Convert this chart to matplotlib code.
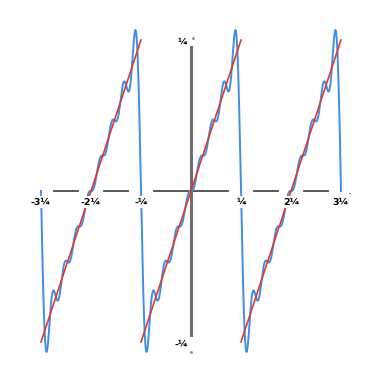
import numpy as np
import matplotlib
matplotlib.use('Agg')
import matplotlib.pyplot as plt

PI = np.pi

# sawtooth pieces (red): start x, end x, start y, end y
saw_x0 = [-3 * PI, -PI, PI]
saw_x1 = [-PI, PI, 3 * PI]
saw_y0 = [-PI, -PI, -PI]
saw_y1 = [PI, PI, PI]

# fourier coefficients of the sine terms (blue), 8 harmonics
harmonics = [1, 2, 3, 4, 5, 6, 7, 8]
coeffs = [2.0, -1.0, 0.6667, -0.5, 0.4, -0.3333, 0.2857, -0.25]

xticks = [-3 * PI, -2 * PI, -PI, PI, 2 * PI, 3 * PI]
xticklabels = ['-3¼', '-2¼', '-¼', '¼', '2¼', '3¼']
yticks = [PI, -PI]
yticklabels = ['¼', '-¼']

fig = plt.figure(figsize=(3.75, 3.72), dpi=100)
ax = fig.add_axes([0, 0, 1, 1])
ax.set_xlim(-12.0, 11.56)
ax.set_ylim(-3.766, 3.974)
ax.axis('off')

# axes lines
ax.plot([-9.5, 10.0], [0, 0], color='#4a4a4a', lw=1.3, zorder=1)
ax.plot([10.0], [0], marker=(3, 0, -90), color='#4a4a4a', ms=3, zorder=1)
ax.plot([0, 0], [-3.0, 3.0], color='#6e6e6e', lw=2.2, zorder=1)
ax.plot([0.12, 0.0], [PI + 0.05, -PI - 0.2], ls='none', marker='.',
        ms=2, color='#888888', zorder=1)

# gaps in the x axis under the labels
for x in xticks:
    ax.plot([x - 0.6, x + 0.6], [0, 0], color='white', lw=3, zorder=1.5)

# red sawtooth
for a, b, c, d in zip(saw_x0, saw_x1, saw_y0, saw_y1):
    ax.plot([a, b], [c, d], color='#e03a2f', lw=1.2, zorder=3)

# blue partial sum
xs = np.linspace(-3 * PI, 3 * PI, 3000)
ys = np.zeros_like(xs)
for n, b in zip(harmonics, coeffs):
    ys += b * np.sin(n * xs)
ax.plot(xs, ys, color='#3d8fe8', lw=1.4, zorder=2)

box = dict(facecolor='white', edgecolor='none', pad=0.8)
for x, lab in zip(xticks, xticklabels):
    ax.text(x, -0.23, lab, ha='center', va='center', fontsize=6.8,
            family='DejaVu Sans', fontweight='bold', bbox=box, zorder=4)
for y, lab in zip(yticks, yticklabels):
    ax.text(-0.2, y - 0.05, lab, ha='right', va='center', fontsize=6.8,
            family='DejaVu Sans', fontweight='bold', bbox=box, zorder=4)

fig.savefig('out.png', dpi=100)
